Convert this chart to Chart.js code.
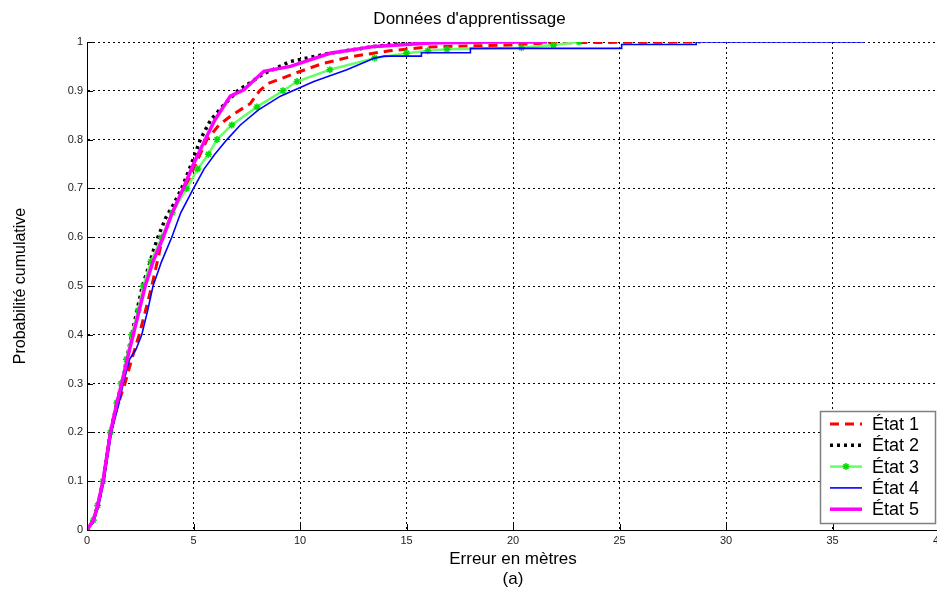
<!DOCTYPE html>
<html>
<head>
<meta charset="utf-8">
<script src="https://cdn.jsdelivr.net/npm/chart.js@4/dist/chart.umd.min.js"></script>
<style>
html,body{margin:0;padding:0;background:#fff;overflow:hidden;}
#wrap{width:937px;height:592px;overflow:hidden;position:relative;}
canvas{display:block;}
</style>
</head>
<body>
<div id="wrap"><canvas id="c" width="950" height="592"></canvas></div>
<script>
// ---- data ----
const seriesLabels = ['État 1', 'État 2', 'État 3', 'État 4', 'État 5'];
const xTicks = [0, 5, 10, 15, 20, 25, 30, 35, 40];
const yTicks = [0, 0.1, 0.2, 0.3, 0.4, 0.5, 0.6, 0.7, 0.8, 0.9, 1];

const e1x = [0, 0.3, 0.5, 0.75, 1.1, 1.4, 1.78, 2.1, 2.45, 2.75, 3.04, 3.3, 3.55, 4.0, 4.6, 5.0, 5.63, 6.2, 6.8, 7.67, 8.1, 8.5, 9.9, 11.0, 12.4, 14.2, 16.1, 18.0, 20.0, 21.5, 23.5, 28.8];
const e1y = [0, 0.02, 0.05, 0.1, 0.2, 0.25, 0.3, 0.35, 0.4, 0.45, 0.5, 0.55, 0.6, 0.65, 0.7, 0.74, 0.8, 0.83, 0.85, 0.874, 0.9, 0.915, 0.938, 0.955, 0.97, 0.982, 0.99, 0.992, 0.994, 0.998, 0.999, 1.0];

const e2x = [0, 0.3, 0.5, 0.75, 1.1, 1.45, 1.63, 2.0, 2.3, 2.6, 2.9, 3.1, 3.33, 3.7, 4.1, 4.44, 4.9, 5.32, 5.8, 6.4, 7.12, 7.5, 8.3, 9.55, 11.4, 13.5, 15.5, 18.6];
const e2y = [0, 0.02, 0.05, 0.1, 0.2, 0.27, 0.3, 0.38, 0.44, 0.5, 0.54, 0.57, 0.6, 0.64, 0.67, 0.7, 0.75, 0.8, 0.84, 0.87, 0.902, 0.912, 0.935, 0.96, 0.977, 0.991, 1.0, 1.0];

const e3x = [0, 0.3, 0.5, 0.75, 1.1, 1.4, 1.6, 1.85, 2.1, 2.4, 2.64, 3.0, 3.51, 4.0, 4.68, 5.2, 5.7, 6.1, 6.8, 7.98, 9.2, 9.86, 11.4, 13.5, 15.0, 16.0, 16.9, 20.4, 21.9, 23.1];
const e3y = [0, 0.02, 0.05, 0.1, 0.2, 0.26, 0.3, 0.35, 0.4, 0.45, 0.5, 0.55, 0.6, 0.65, 0.7, 0.74, 0.77, 0.8, 0.83, 0.867, 0.9, 0.919, 0.943, 0.967, 0.977, 0.982, 0.985, 0.988, 0.994, 1.0];

const e4x = [0, 0.3, 0.55, 0.8, 1.15, 1.5, 1.7, 2.0, 2.3, 2.57, 2.85, 3.1, 3.5, 3.98, 4.4, 5.0, 5.5, 6.0, 6.57, 7.2, 8.05, 9.08, 10.65, 12.2, 13.5, 13.95, 15.7, 15.7, 18.0, 18.0, 25.1, 25.1, 28.6, 28.6, 36.5];
const e4y = [0, 0.015, 0.05, 0.1, 0.2, 0.26, 0.3, 0.35, 0.37, 0.4, 0.45, 0.5, 0.55, 0.6, 0.65, 0.7, 0.74, 0.77, 0.8, 0.83, 0.861, 0.889, 0.919, 0.943, 0.967, 0.971, 0.971, 0.978, 0.978, 0.987, 0.987, 0.995, 0.995, 1.0, 1.0];

const e5x = [0, 0.3, 0.5, 0.75, 1.1, 1.4, 1.63, 2.0, 2.34, 2.73, 3.1, 3.58, 4.0, 4.52, 5.0, 5.55, 6.0, 6.73, 7.36, 8.3, 9.55, 11.4, 13.5, 16.1, 19.0, 21.6];
const e5y = [0, 0.02, 0.05, 0.1, 0.2, 0.26, 0.3, 0.37, 0.43, 0.5, 0.55, 0.6, 0.65, 0.7, 0.75, 0.8, 0.84, 0.889, 0.902, 0.94, 0.95, 0.977, 0.991, 0.998, 1.0, 1.0];

// ---- build ----
const pts = (xs, ys) => xs.map((x, i) => ({x: x, y: ys[i]}));
const FONT = "'Liberation Sans', Arial, sans-serif";

const datasets = [
  {label: seriesLabels[0], data: pts(e1x, e1y), borderColor: '#ff0000', backgroundColor: '#ff0000', borderWidth: 3, borderDash: [9, 6], pointRadius: 0, order: 5},
  {label: seriesLabels[1], data: pts(e2x, e2y), borderColor: '#000000', backgroundColor: '#000000', borderWidth: 3.5, borderDash: [3, 4], pointRadius: 0, order: 4},
  {label: seriesLabels[2], data: pts(e3x, e3y), borderColor: '#66ff66', backgroundColor: '#00ee00', borderWidth: 2.5, pointRadius: 3.5, pointStyle: 'star', pointBorderColor: '#00dd00', pointBorderWidth: 1.5, order: 3},
  {label: seriesLabels[3], data: pts(e4x, e4y), borderColor: '#0000ff', backgroundColor: '#0000ff', borderWidth: 1.6, pointRadius: 0, order: 2},
  {label: seriesLabels[4], data: pts(e5x, e5y), borderColor: '#ff00ff', backgroundColor: '#ff00ff', borderWidth: 3.5, pointRadius: 0, order: 1}
];

const innerTicks = {
  id: 'innerTicks',
  afterDatasetsDraw(chart) {
    const ctx = chart.ctx, a = chart.chartArea;
    const xs = chart.scales.x, ys = chart.scales.y;
    ctx.save();
    ctx.strokeStyle = '#000'; ctx.lineWidth = 1;
    ctx.beginPath();
    xTicks.forEach(v => { const p = Math.round(xs.getPixelForValue(v)) + 0.5; ctx.moveTo(p, a.bottom); ctx.lineTo(p, a.bottom - 6); });
    yTicks.forEach(v => { const p = Math.round(ys.getPixelForValue(v)) + 0.5; ctx.moveTo(a.left, p); ctx.lineTo(a.left + 6, p); });
    ctx.stroke();
    ctx.restore();
  }
};

const boxLegend = {
  id: 'boxLegend',
  afterDraw(chart) {
    const ctx = chart.ctx;
    const bx = 820, by = 411, bw = 115, bh = 112;
    ctx.save();
    ctx.fillStyle = '#fff';
    ctx.fillRect(bx, by, bw, bh);
    ctx.strokeStyle = '#808080'; ctx.lineWidth = 1.5;
    ctx.strokeRect(bx + 0.5, by + 0.5, bw, bh);
    ctx.font = '18px ' + FONT;
    ctx.textBaseline = 'middle';
    ctx.fillStyle = '#000';
    chart.data.datasets.forEach((d, i) => {
      const y = by + 13 + i * 21.3;
      ctx.save();
      ctx.strokeStyle = d.borderColor;
      ctx.lineWidth = d.borderWidth;
      ctx.setLineDash(d.borderDash || []);
      ctx.beginPath(); ctx.moveTo(830, y); ctx.lineTo(862, y); ctx.stroke();
      ctx.restore();
      if (d.pointStyle === 'star') {
        ctx.save();
        ctx.strokeStyle = d.pointBorderColor; ctx.lineWidth = 1.5;
        const r = 3.5, cx = 846;
        ctx.beginPath();
        for (let k = 0; k < 4; k++) {
          const ang = k * Math.PI / 4;
          ctx.moveTo(cx - r * Math.cos(ang), y - r * Math.sin(ang));
          ctx.lineTo(cx + r * Math.cos(ang), y + r * Math.sin(ang));
        }
        ctx.stroke();
        ctx.restore();
      }
      ctx.fillText(d.label, 872, y + 1);
    });
    ctx.restore();
  }
};

new Chart(document.getElementById('c'), {
  type: 'line',
  data: {datasets: datasets},
  plugins: [innerTicks, boxLegend],
  options: {
    responsive: false,
    animation: false,
    devicePixelRatio: 1,
    layout: {padding: {left: 0, right: 11, top: 0, bottom: 0}},
    elements: {line: {tension: 0}},
    plugins: {
      legend: {display: false},
      tooltip: {enabled: false},
      title: {
        display: true,
        text: "Données d'apprentissage",
        color: '#000',
        font: {family: FONT, size: 17, weight: 'normal'},
        padding: {top: 9, bottom: 12.6}
      }
    },
    scales: {
      x: {
        type: 'linear',
        min: 0, max: 40,
        afterBuildTicks: s => { s.ticks = xTicks.map(v => ({value: v})); },
        afterFit: s => { s.height = 62; },
        ticks: {color: '#222', font: {family: FONT, size: 11}, padding: 4, maxRotation: 0, autoSkip: false,
                callback: v => String(v)},
        grid: {color: '#000', lineWidth: 1, drawTicks: false},
        border: {display: true, color: '#000', width: 1, dash: [2, 3]},
        title: {
          display: true,
          text: ['Erreur en mètres', '(a)'],
          color: '#000',
          font: {family: FONT, size: 17, weight: 'normal'},
          padding: {top: 0, bottom: 2}
        }
      },
      y: {
        type: 'linear',
        min: 0, max: 1,
        afterBuildTicks: s => { s.ticks = yTicks.map(v => ({value: v})); },
        afterFit: s => { s.width = 87; },
        ticks: {color: '#222', font: {family: FONT, size: 11}, padding: 4, autoSkip: false,
                callback: v => String(Math.round(v * 10) / 10)},
        grid: {color: '#000', lineWidth: 1, drawTicks: false},
        border: {display: true, color: '#000', width: 1, dash: [2, 3]},
        title: {
          display: true,
          text: 'Probabilité cumulative',
          color: '#000',
          font: {family: FONT, size: 16, weight: 'normal'},
          padding: {top: 11, bottom: 0}
        }
      }
    }
  }
});
</script>
</body>
</html>
